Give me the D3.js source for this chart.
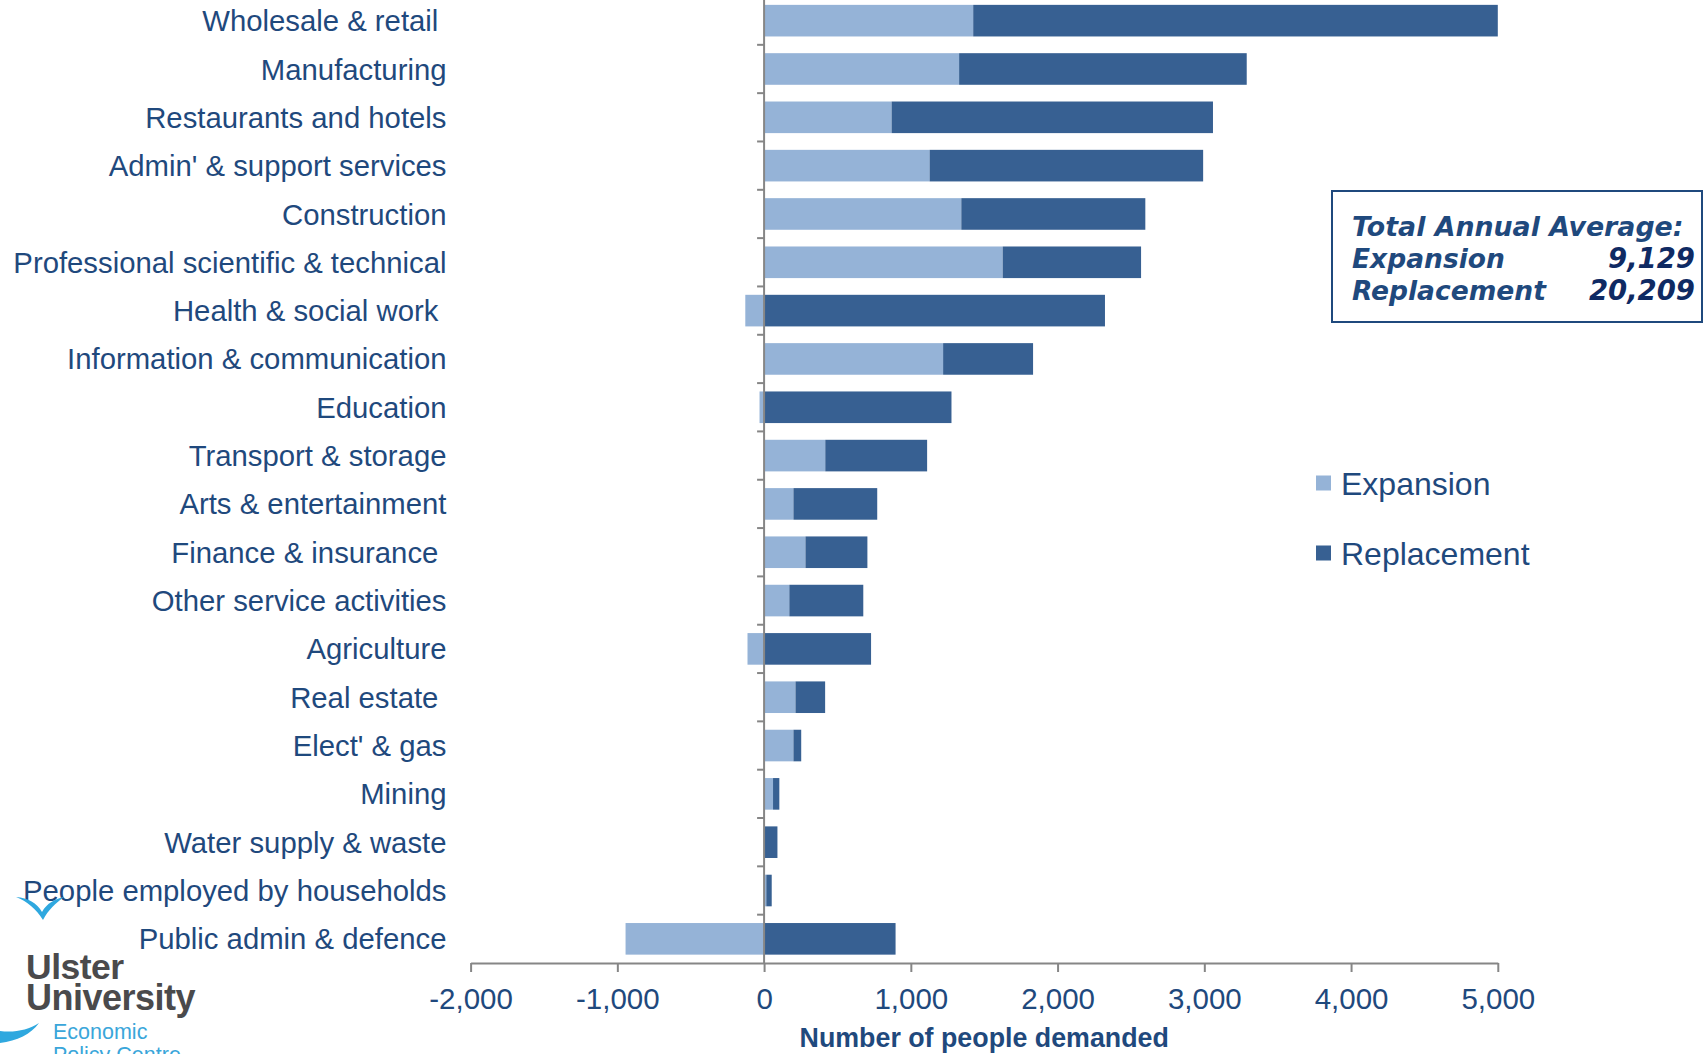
<!DOCTYPE html>
<html>
<head>
<meta charset="utf-8">
<script src="https://cdn.jsdelivr.net/npm/d3@7"></script>
<style>
  html, body { margin: 0; padding: 0; background: #fff; }
  svg { display: block; }
</style>
</head>
<body>
<svg id="chart" width="1708" height="1054" font-family="'Liberation Sans', Arial, sans-serif"></svg>
<script>
// ---------- data ----------
const categories = [
  "Wholesale & retail ",
  "Manufacturing",
  "Restaurants and hotels",
  "Admin' & support services",
  "Construction",
  "Professional scientific & technical",
  "Health & social work ",
  "Information & communication",
  "Education",
  "Transport & storage",
  "Arts & entertainment",
  "Finance & insurance ",
  "Other service activities",
  "Agriculture",
  "Real estate ",
  "Elect' & gas",
  "Mining",
  "Water supply & waste",
  "People employed by households",
  "Public admin & defence"
];
const expansion   = [1425, 1329, 869, 1128, 1344, 1626, -128, 1220, -31, 417, 200, 282, 172, -113, 214, 200, 61, 5, 15, -944];
const replacement = [3575, 1960, 2190, 1864, 1254, 943, 2323, 613, 1277, 694, 571, 422, 504, 729, 202, 53, 43, 86, 37, 896];
const seriesNames = ["Expansion", "Replacement"];
const xTicks = [-2000, -1000, 0, 1000, 2000, 3000, 4000, 5000];
const axisTitle = "Number of people demanded";
const boxTitle = "Total Annual Average:";
const boxRows = [["Expansion", "9,129"], ["Replacement", "20,209"]];

// ---------- setup ----------
const colors = { Expansion: "#95B3D7", Replacement: "#376092" };
const textColor = "#1F497D";
const svg = d3.select("#chart");

const x = d3.scaleLinear().domain([-2000, 5000]).range([470.6, 1497.8]);
const y = d3.scaleBand().domain(categories).range([-3.5, 963])
  .paddingInner(0.346).paddingOuter(0.173);

const table = categories.map((c, i) => ({ cat: c, Expansion: expansion[i], Replacement: replacement[i] }));
const stacked = d3.stack().keys(seriesNames).offset(d3.stackOffsetDiverging)(table);

// bars
svg.append("g").selectAll("g").data(stacked).join("g")
  .attr("fill", s => colors[s.key])
  .selectAll("rect").data(s => s).join("rect")
  .attr("x", d => x(Math.min(d[0], d[1])))
  .attr("width", d => Math.abs(x(d[1]) - x(d[0])))
  .attr("y", d => y(d.data.cat))
  .attr("height", y.bandwidth());

// x axis
const fmt = d3.format(",");
const xAxis = svg.append("g").attr("transform", "translate(0,963)")
  .call(d3.axisBottom(x).tickValues(xTicks).tickSize(9).tickSizeOuter(0)
    .tickFormat(d => fmt(d).replace("\u2212", "-")));
xAxis.select(".domain").attr("stroke", "#868686").attr("stroke-width", 2);
xAxis.selectAll(".tick line").attr("stroke", "#868686").attr("stroke-width", 2);
xAxis.selectAll(".tick text").attr("fill", textColor).attr("font-size", 29.5)
  .attr("font-family", "'Liberation Sans', Arial, sans-serif").attr("y", 25).attr("dy", "0.71em");

// axis title
svg.append("text").attr("x", (x(-2000) + x(5000)) / 2).attr("y", 1047)
  .attr("text-anchor", "middle").attr("font-weight", "bold").attr("font-size", 26.8)
  .attr("fill", textColor).text(axisTitle);

// category axis at zero
const yAxis = svg.append("g").attr("transform", `translate(${x(0)},0)`);
yAxis.append("line").attr("x1", 0).attr("x2", 0).attr("y1", y.range()[0]).attr("y2", 963)
  .attr("stroke", "#868686").attr("stroke-width", 2);
const step = y.step();
yAxis.selectAll("line.tk").data(d3.range(categories.length)).join("line").attr("class", "tk")
  .attr("x1", -7).attr("x2", 0)
  .attr("y1", i => y(categories[i]) - (step - y.bandwidth()) / 2)
  .attr("y2", i => y(categories[i]) - (step - y.bandwidth()) / 2)
  .attr("stroke", "#868686").attr("stroke-width", 2);

// category labels
svg.append("g").selectAll("text").data(categories).join("text")
  .attr("x", 446.5).attr("y", d => y(d) + y.bandwidth() / 2).attr("dy", "0.36em")
  .attr("text-anchor", "end").attr("font-size", 29.3).attr("fill", textColor)
  .style("white-space", "pre").text(d => d);

// legend
const lg = svg.append("g");
seriesNames.forEach((s, i) => {
  const cy = 483 + i * 70;
  lg.append("rect").attr("x", 1316).attr("y", cy - 7.5).attr("width", 15).attr("height", 15).attr("fill", colors[s]);
  lg.append("text").attr("x", 1341).attr("y", cy).attr("dy", "0.36em")
    .attr("font-size", 32).attr("fill", textColor).text(s);
});

// totals box
const bx = svg.append("g");
bx.append("rect").attr("x", 1332).attr("y", 191).attr("width", 370).attr("height", 131)
  .attr("fill", "#fff").attr("stroke", textColor).attr("stroke-width", 2);
const boxFont = "'DejaVu Sans', Verdana, sans-serif";
bx.append("text").attr("x", 1352).attr("y", 236).attr("font-family", boxFont)
  .attr("font-weight", "bold").attr("font-style", "italic").attr("font-size", 26.8)
  .attr("fill", textColor).text(boxTitle);
boxRows.forEach((r, i) => {
  const by = 268 + i * 32;
  bx.append("text").attr("x", 1352).attr("y", by).attr("font-family", boxFont)
    .attr("font-weight", "bold").attr("font-style", "italic").attr("font-size", 26.5)
    .attr("fill", textColor).text(r[0]);
  bx.append("text").attr("x", 1695).attr("y", by).attr("text-anchor", "end").attr("font-family", boxFont)
    .attr("font-weight", "bold").attr("font-style", "italic").attr("font-size", 27.5)
    .attr("fill", "#0F2A63").text(r[1]);
});

// logo
const logo = svg.append("g");
logo.append("path").attr("d", "M16,897 C28,898 37,903 42,912 C47,903 55,899 64,897 C56,903 48,910 43,920 C36,909 27,901 16,897 Z")
  .attr("fill", "#2FA8DF");
logo.append("path").attr("d", "M0,1031 C14,1033 28,1030 39,1023 C31,1034 17,1041 0,1043 Z")
  .attr("fill", "#2FA8DF");
logo.append("text").attr("x", 26).attr("y", 979).attr("font-weight", "bold").attr("font-size", 35.5)
  .attr("letter-spacing", -0.5).attr("fill", "#4A4A4C").text("Ulster");
logo.append("text").attr("x", 26).attr("y", 1010).attr("font-weight", "bold").attr("font-size", 36)
  .attr("letter-spacing", -0.5).attr("fill", "#4A4A4C").text("University");
logo.append("text").attr("x", 53).attr("y", 1039).attr("font-size", 21.5).attr("fill", "#3AA6DA").text("Economic");
logo.append("text").attr("x", 53).attr("y", 1062).attr("font-size", 21.5).attr("fill", "#3AA6DA").text("Policy Centre");
</script>
</body>
</html>
